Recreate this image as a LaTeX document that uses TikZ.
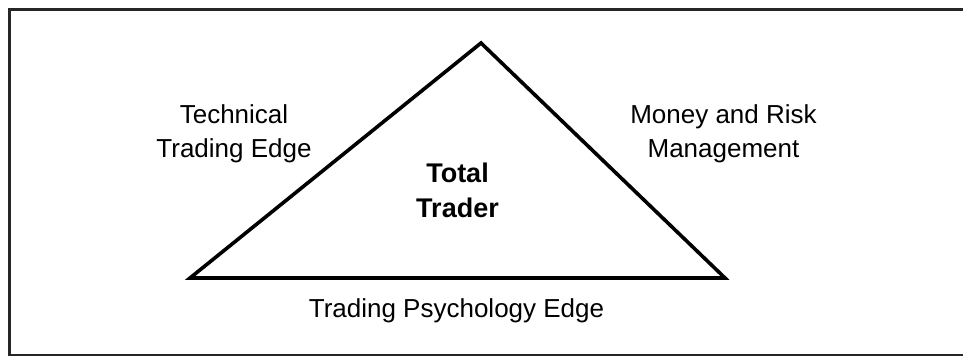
\documentclass[tikz,border=0pt]{standalone}
\usepackage{fontspec}
\setmainfont{Liberation Sans}
\tikzset{
  lbl/.style={font=\fontsize{26}{34}\selectfont, align=center, anchor=base, inner sep=0pt},
  boldlbl/.style={lbl, font=\fontsize{27}{35}\selectfont\bfseries},
  frame/.style={draw=black!85, line width=2.5pt},
  tri/.style={draw=black, line width=3.6pt, line join=miter}
}
\begin{document}
\begin{tikzpicture}[x=1pt,y=-1pt]
  \useasboundingbox (0,0) rectangle (963,357);
  \clip (0,0) rectangle (963,357);
  \draw[frame] (9.5,9.5) rectangle (990,355);
  \coordinate (apex) at (481,43);
  \coordinate (bl) at (190,278);
  \coordinate (br) at (725,278);
  \draw[tri] (apex) -- (br) -- (bl) -- cycle;
  \node[lbl] (tech) at (234,157) {Technical\\Trading Edge};
  \node[lbl] (money) at (723.5,157) {Money and Risk\\Management};
  \node[boldlbl] (total) at (457.5,217) {Total\\Trader};
  \node[lbl] (psych) at (456.5,317) {Trading Psychology Edge};
\end{tikzpicture}
\end{document}
